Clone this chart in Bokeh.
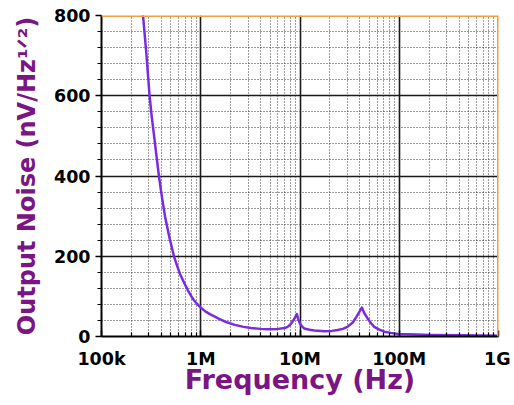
from bokeh.plotting import figure
from bokeh.models import FixedTicker, Span, Range1d
from bokeh.embed import file_html
from bokeh.resources import INLINE

# ---- data ----
freq_hz = [2.5e5, 2.62e5, 2.83e5, 3.05e5, 3.2e5, 3.38e5, 3.58e5, 3.79e5, 4.05e5, 4.37e5,
           4.8e5, 5.37e5, 5.8e5, 6.2e5, 6.8e5, 7.35e5, 8.0e5, 8.5e5, 9.2e5, 1.0e6,
           1.12e6, 1.25e6, 1.5e6, 1.8e6, 2.2e6, 2.7e6, 3.2e6, 4.0e6, 4.7e6, 6.0e6,
           7.0e6, 7.5e6, 8.0e6, 8.4e6, 8.9e6, 9.3e6, 9.6e6, 1.0e7, 1.05e7, 1.1e7,
           1.25e7, 1.4e7, 1.76e7, 2.1e7, 2.4e7, 2.7e7, 3.0e7, 3.4e7, 3.7e7, 4.0e7,
           4.2e7, 4.45e7, 4.8e7, 5.2e7, 5.6e7, 6.3e7, 7.1e7, 8.2e7, 9.7e7, 1.5e8,
           2.1e8, 4.5e8, 1.0e9]
noise_nv = [870, 800, 706, 600, 550, 502, 450, 400, 350, 299,
            250, 200, 175, 155, 134, 117, 101, 91, 81, 72,
            62, 55, 45, 36, 29, 24, 21, 19, 18, 19,
            21, 24, 30, 37, 47, 56, 44, 32, 25, 20,
            17, 15, 13, 14, 16, 19, 24, 35, 49, 63,
            72, 58, 45, 33, 24, 17, 12, 9, 6, 5,
            4, 3, 2]

x_ticks = [1e5, 1e6, 1e7, 1e8, 1e9]
x_tick_labels = ["100k", "1M", "10M", "100M", "1G"]
y_ticks = [0, 200, 400, 600, 800]
y_minor = [40, 80, 120, 160, 240, 280, 320, 360, 440, 480, 520, 560, 640, 680, 720, 760]
x_minor = [d * m for d in [1e5, 1e6, 1e7, 1e8] for m in range(2, 10)]

x_title = "Frequency (Hz)"
y_title = "Output Noise (nV/Hz\u00b9\u141f\u00b2)"

PURPLE_LINE = "#7A2BE2"
PURPLE_TEXT = "#7B1583"
ORANGE = "#F0A040"
FONT = "DejaVu Sans"

p = figure(width=510, height=400, x_axis_type="log",
           x_range=Range1d(1e5, 1e9), y_range=Range1d(0, 800),
           output_backend="svg", toolbar_location=None,
           min_border_left=101, min_border_right=12,
           min_border_top=15, min_border_bottom=64)
p.outline_line_color = None
p.background_fill_color = "white"
p.border_fill_color = "white"

# axes / ticks
p.xaxis.ticker = FixedTicker(ticks=x_ticks, minor_ticks=x_minor)
p.xaxis.major_label_overrides = {t: l for t, l in zip(x_ticks, x_tick_labels)}
p.yaxis.ticker = FixedTicker(ticks=y_ticks, minor_ticks=y_minor)

for ax in (p.xaxis[0], p.yaxis[0]):
    ax.axis_line_color = "black"
    ax.axis_line_width = 2
    ax.major_tick_line_color = "black"
    ax.major_tick_line_width = 1.5
    ax.minor_tick_line_color = "black"
    ax.minor_tick_line_width = 1.2
    ax.major_label_text_font = FONT
    ax.major_label_text_font_style = "bold"
    ax.major_label_text_font_size = "17.5px"
    ax.major_label_text_color = "black"
    ax.axis_label_text_font = FONT
    ax.axis_label_text_font_style = "bold"
    ax.axis_label_text_color = PURPLE_TEXT

p.xaxis.axis_label = x_title
p.xaxis.axis_label_text_font_size = "27px"
p.xaxis.axis_label_standoff = -8
p.yaxis.axis_label = y_title
p.yaxis.axis_label_text_font_size = "24px"
p.yaxis.axis_label_standoff = 10

p.xaxis.major_tick_in = 6
p.xaxis.major_tick_out = 0
p.xaxis.minor_tick_in = 4
p.xaxis.minor_tick_out = 0
p.xaxis.major_label_standoff = 12

p.yaxis.major_tick_in = 0
p.yaxis.major_tick_out = 6
p.yaxis.minor_tick_in = 0
p.yaxis.minor_tick_out = 4
p.yaxis.major_label_standoff = 5

# grids
for g in (p.xgrid[0], p.ygrid[0]):
    g.grid_line_color = "#1a1a1a"
    g.grid_line_width = 1.6
    g.minor_grid_line_color = "#3a3a3a"
    g.minor_grid_line_width = 1
    g.minor_grid_line_dash = "1 2"

# top / right border in orange
p.add_layout(Span(location=800, dimension="width", line_color=ORANGE, line_width=3))
p.add_layout(Span(location=1e9, dimension="height", line_color=ORANGE, line_width=3))

# curve
p.line(freq_hz, noise_nv, line_color=PURPLE_LINE, line_width=2.5, line_join="round")

open("out.html", "w").write(file_html(p, INLINE))
